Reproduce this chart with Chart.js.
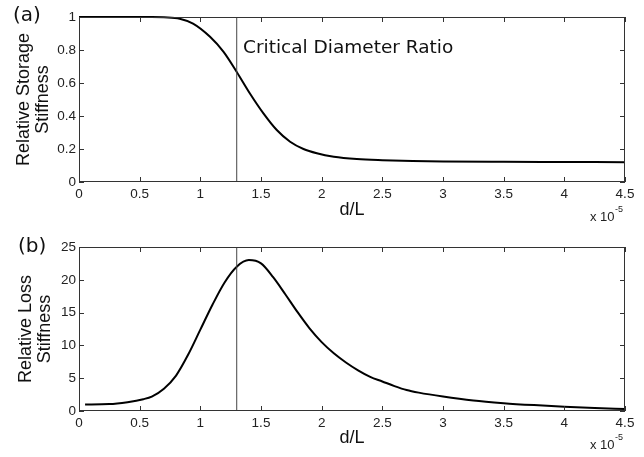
<!DOCTYPE html>
<html>
<head>
<meta charset="utf-8">
<script src="https://cdn.jsdelivr.net/npm/chart.js@4"></script>
<style>
  body { margin: 0; background: #fff; }
  canvas { position: absolute; left: 0; }
  #storageChart { top: 0; }
  #lossChart { top: 228px; }
</style>
</head>
<body>
<canvas id="storageChart" width="644" height="228"></canvas>
<canvas id="lossChart" width="644" height="229"></canvas>
<script>
// d/L in units of 1e-5
const storageX = [0, 0.3, 0.6, 0.7, 0.83, 0.94, 1.08, 1.19, 1.30, 1.41, 1.52, 1.63, 1.74, 1.85, 1.96, 2.10, 2.29, 2.5, 2.75, 3.0, 3.5, 4.0, 4.5];
const storageY = [1, 1, 1, 0.998, 0.99, 0.96, 0.88, 0.79, 0.667, 0.535, 0.416, 0.315, 0.244, 0.2, 0.174, 0.153, 0.139, 0.132, 0.127, 0.124, 0.122, 0.121, 0.12];

const lossX = [0.05, 0.25, 0.4, 0.53, 0.6, 0.7, 0.8, 0.9, 1.0, 1.1, 1.2, 1.3, 1.4, 1.5, 1.6, 1.7, 1.8, 1.9, 2.0, 2.1, 2.2, 2.3, 2.4, 2.5, 2.6, 2.7, 2.8, 3.0, 3.25, 3.5, 3.75, 4.0, 4.25, 4.5];
const lossY = [1.0, 1.05, 1.35, 1.8, 2.2, 3.4, 5.4, 8.6, 12.4, 16.2, 19.6, 22.0, 23.0, 22.5, 20.4, 17.8, 15.1, 12.6, 10.5, 8.8, 7.4, 6.2, 5.2, 4.5, 3.8, 3.2, 2.8, 2.2, 1.6, 1.2, 0.9, 0.65, 0.45, 0.3];

const criticalRatio = 1.3;
const xRange = [0, 4.5];
const storageRange = [0, 1];
const lossRange = [0, 25];

const tickFont = { family: 'Liberation Sans, Arial', size: 13.5 };
const titleFont = { family: 'Liberation Sans, Arial', size: 18, lineHeight: 1.06 };
const ink = '#222';
const fmt = v => String(Number(v.toFixed(2)));

// MATLAB style box with inward ticks on all four sides
const framePlugin = {
  id: 'frame',
  afterDatasetsDraw(chart) {
    const { ctx, chartArea: a, scales: { x, y } } = chart;
    ctx.save();
    ctx.strokeStyle = '#333';
    ctx.lineWidth = 1;
    ctx.strokeRect(a.left + 0.5, a.top + 0.5, a.right - a.left - 1, a.bottom - a.top - 1);
    ctx.beginPath();
    x.ticks.forEach(t => {
      const px = Math.round(x.getPixelForValue(t.value)) + 0.5;
      ctx.moveTo(px, a.bottom); ctx.lineTo(px, a.bottom - 5);
      ctx.moveTo(px, a.top); ctx.lineTo(px, a.top + 5);
    });
    y.ticks.forEach(t => {
      const py = Math.round(y.getPixelForValue(t.value)) + 0.5;
      ctx.moveTo(a.left, py); ctx.lineTo(a.left + 5, py);
      ctx.moveTo(a.right, py); ctx.lineTo(a.right - 5, py);
    });
    ctx.stroke();

    // x 10^-5 multiplier
    ctx.fillStyle = ink;
    ctx.font = '13px "Liberation Sans", Arial';
    ctx.textAlign = 'left';
    ctx.textBaseline = 'middle';
    ctx.fillText('x 10', 590, 217);
    ctx.font = '9px "Liberation Sans", Arial';
    ctx.fillText('-5', 615, 210);

    const o = chart.options.plugins.frame;
    ctx.font = '20px "DejaVu Sans"';
    ctx.fillStyle = '#111';
    ctx.fillText(o.panel, o.panelX, o.panelY);
    if (o.note) {
      ctx.font = '18.5px "DejaVu Sans"';
      ctx.fillText(o.note, 243, 48);
    }
    ctx.restore();
  }
};

function makeChart(id, xs, ys, yRange, step, yTitle, padTop, opts) {
  const points = xs.map((v, i) => ({ x: v, y: ys[i] }));
  return new Chart(document.getElementById(id), {
    type: 'scatter',
    data: {
      datasets: [
        {
          data: [{ x: criticalRatio, y: yRange[0] }, { x: criticalRatio, y: yRange[1] }],
          showLine: true, borderColor: '#444', borderWidth: 1, pointRadius: 0
        },
        {
          data: points, showLine: true, borderColor: '#000', borderWidth: 2,
          pointRadius: 0, cubicInterpolationMode: 'monotone', clip: false
        }
      ]
    },
    options: {
      responsive: false,
      animation: false,
      layout: { padding: { top: padTop, right: 19, left: 0, bottom: 0 } },
      plugins: { legend: { display: false }, tooltip: { enabled: false }, frame: opts },
      scales: {
        x: {
          type: 'linear', min: xRange[0], max: xRange[1],
          grid: { display: false, drawTicks: false }, border: { display: false },
          ticks: { stepSize: 0.5, font: tickFont, color: ink, padding: 4, maxRotation: 0, callback: fmt },
          title: { display: true, text: 'd/L', font: titleFont, color: '#111', padding: { top: 0, bottom: opts.xTitlePad } },
          afterFit: s => { s.height = 46; }
        },
        y: {
          min: yRange[0], max: yRange[1],
          grid: { display: false, drawTicks: false }, border: { display: false },
          ticks: { stepSize: step, font: tickFont, color: ink, padding: 3, callback: fmt },
          title: { display: true, text: yTitle, font: titleFont, color: '#111', padding: { top: opts.yTitlePad, bottom: 0 } },
          afterFit: s => { s.width = 79; }
        }
      }
    },
    plugins: [framePlugin]
  });
}

makeChart('storageChart', storageX, storageY, storageRange, 0.2,
  ['Relative Storage', 'Stiffness'], 17,
  { panel: '(a)', panelX: 13, panelY: 16, note: 'Critical Diameter Ratio', xTitlePad: 8.5, yTitlePad: 14.5 });

makeChart('lossChart', lossX, lossY, lossRange, 5,
  ['Relative Loss', 'Stiffness'], 19,
  { panel: '(b)', panelX: 18, panelY: 19, note: null, xTitlePad: 9.5, yTitlePad: 16.5 });
</script>
</body>
</html>
